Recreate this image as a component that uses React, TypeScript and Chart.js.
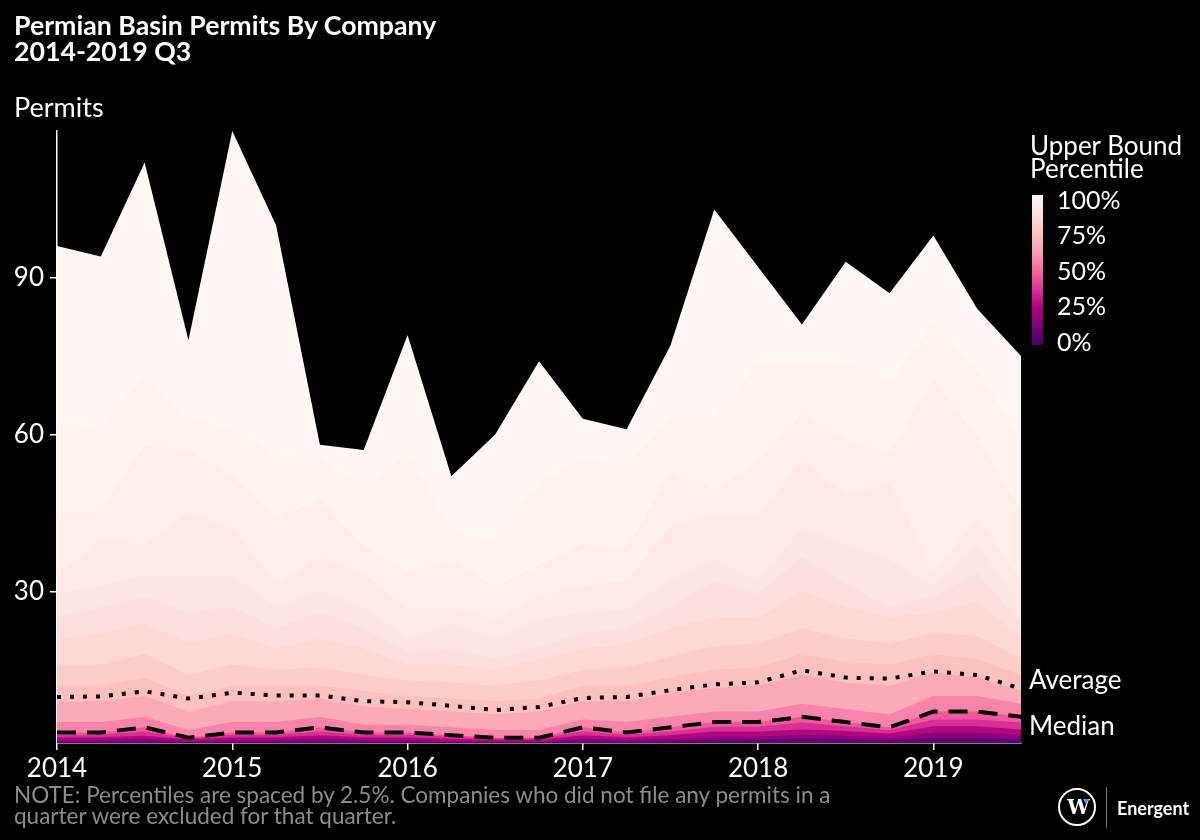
import React, { useEffect, useRef } from 'react';
import { Chart, registerables } from 'chart.js';

Chart.register(...registerables);

// ---------- DATA ----------
const QUARTERS = [
  '2014 Q1', '2014 Q2', '2014 Q3', '2014 Q4',
  '2015 Q1', '2015 Q2', '2015 Q3', '2015 Q4',
  '2016 Q1', '2016 Q2', '2016 Q3', '2016 Q4',
  '2017 Q1', '2017 Q2', '2017 Q3', '2017 Q4',
  '2018 Q1', '2018 Q2', '2018 Q3', '2018 Q4',
  '2019 Q1', '2019 Q2', '2019 Q3',
];

// Upper-bound percentile values (permits per company) for each quarter
const P100 = [96, 94, 112, 78, 118, 100, 58, 57, 79, 52, 60, 74, 63, 61, 77, 103, 92, 81, 93, 87, 98, 84, 75];
const P97_5 = [62, 61.5, 71, 63, 61, 56, 55.5, 49.5, 56.5, 41.5, 39.5, 51, 55, 54, 63, 63, 73.5, 73.5, 73.5, 70, 81, 72, 59];
const P95 = [45, 45, 58, 57, 52, 44, 47.5, 38.5, 34, 36, 31, 35, 39, 38, 53, 49.5, 55, 64, 59, 56.5, 70.5, 59.5, 45];
const P92_5 = [33, 40, 39, 45, 42, 31.5, 36.5, 33.5, 26.5, 27, 24.5, 29, 31, 32, 42.5, 44.5, 44.5, 55, 48.5, 50.5, 33.5, 44, 32];
const P90 = [29.5, 31, 33, 33, 33, 27, 30, 27, 21, 24, 21, 24.5, 26, 26.5, 32, 36, 32, 42, 39, 36, 31, 39, 27];
const P87_5 = [25, 27, 29, 26, 27, 23, 26, 23, 18.5, 19, 17, 19.5, 22, 23, 27, 32, 29.5, 36.5, 31.5, 27, 29, 33.5, 24];
const P85 = [21, 22, 24, 20, 22, 19, 21, 19, 16, 16, 15, 17, 19, 20, 23, 25, 25, 30, 27, 25, 26, 28, 21];
const P80 = [16, 16, 18, 14, 16, 15, 15.5, 14, 13, 12.5, 12, 13, 15, 15.5, 17.5, 19.5, 20, 23, 21, 20, 22, 21.5, 17];
const P75 = [12, 12, 13.5, 10, 12, 12, 12, 11, 10, 9.5, 9, 9.5, 12, 12, 13.5, 15, 15.5, 18, 16.5, 16, 18, 17, 14];
const P70 = [9, 9, 10, 7, 9, 9, 9.5, 8, 7.5, 7, 6.5, 7, 9, 9, 10.5, 11.5, 12, 14, 12.5, 12, 14.5, 13.5, 11];
const P60 = [5, 5, 6, 3.5, 5, 5, 6, 4.5, 4.5, 4, 3.5, 3.5, 5.5, 5, 6, 7, 7, 8.5, 7.5, 6.5, 10, 10, 8.5];
const P50 = [3, 3, 4, 2, 3, 3, 4, 3, 3, 2.5, 2, 2, 4, 3, 4, 5, 5, 6, 5, 4, 7, 7, 6];
const P40 = [2.6, 2.6, 3.2, 1.9, 2.6, 2.6, 3.2, 2.6, 2.6, 2.2, 1.9, 1.9, 3.2, 2.6, 3.2, 4.1, 4.1, 4.9, 4.2, 3.5, 5.5, 5.5, 4.9];
const P30 = [2.1, 2.1, 2.4, 1.7, 2.1, 2.1, 2.5, 2.1, 2.1, 1.8, 1.6, 1.6, 2.5, 2.1, 2.5, 3.2, 3.2, 3.6, 3.3, 2.8, 4.2, 4.2, 3.6];
const P20 = [1.6, 1.6, 1.8, 1.4, 1.6, 1.6, 1.8, 1.6, 1.6, 1.4, 1.3, 1.3, 1.8, 1.6, 1.8, 2.2, 2.2, 2.6, 2.4, 2, 3, 3, 2.6];
const P10 = [1.2, 1.2, 1.3, 1.1, 1.2, 1.2, 1.3, 1.2, 1.2, 1.1, 1.1, 1.1, 1.3, 1.2, 1.3, 1.6, 1.6, 1.9, 1.7, 1.5, 2, 2, 1.7];

const AVERAGE = [9.8, 9.9, 10.9, 9.5, 10.6, 10.1, 10.1, 9.0, 8.8, 8.1, 7.3, 7.9, 9.6, 9.8, 11.1, 12.2, 12.6, 14.9, 13.5, 13.3, 14.7, 14.0, 11.4];
const MEDIAN = P50;

const Y_TICKS = [30, 60, 90];
const X_TICKS = [2014, 2015, 2016, 2017, 2018, 2019];
const LEGEND_LABELS = ['100%', '75%', '50%', '25%', '0%'];

const TITLE = ['Permian Basin Permits By Company', '2014-2019 Q3'];
const Y_TITLE = 'Permits';
const LEGEND_TITLE = ['Upper Bound', 'Percentile'];
const NOTE = [
  'NOTE: Percentiles are spaced by 2.5%. Companies who did not file any permits in a',
  'quarter were excluded for that quarter.',
];

// bands: [upper percentile, lower percentile, values]
const BANDS: [number, number, number[]][] = [
  [10, 0, P10], [20, 10, P20], [30, 20, P30], [40, 30, P40], [50, 40, P50],
  [60, 50, P60], [70, 60, P70], [75, 70, P75], [80, 75, P80], [85, 80, P85],
  [87.5, 85, P87_5], [90, 87.5, P90], [92.5, 90, P92_5], [95, 92.5, P95],
  [97.5, 95, P97_5], [100, 97.5, P100],
];

// ---------- STYLE ----------
const RDPU = ['#49006a', '#7a0177', '#ae017e', '#dd3497', '#f768a1', '#fa9fb5', '#fcc5c0', '#fde0dd', '#fff7f3'];

function hex(c: string) {
  return [parseInt(c.slice(1, 3), 16), parseInt(c.slice(3, 5), 16), parseInt(c.slice(5, 7), 16)];
}
function rdpu(t: number) {
  const x = Math.max(0, Math.min(1, t)) * (RDPU.length - 1);
  const i = Math.min(RDPU.length - 2, Math.floor(x));
  const f = x - i;
  const a = hex(RDPU[i]);
  const b = hex(RDPU[i + 1]);
  const m = a.map((v, k) => Math.round(v + (b[k] - v) * f));
  return `rgb(${m[0]},${m[1]},${m[2]})`;
}

function quarterToX(q: string) {
  const [y, qq] = q.split(' Q');
  return Number(y) + (Number(qq) - 1) / 4;
}

const FONT = 'Lato, "Open Sans", sans-serif';

export default function App() {
  const ref = useRef<HTMLCanvasElement | null>(null);

  useEffect(() => {
    document.body.style.margin = '0';
    document.body.style.background = '#000';
    const xs = QUARTERS.map(quarterToX);
    const pts = (arr: number[]) => arr.map((v, i) => ({ x: xs[i], y: v }));

    const lineLabels = {
      id: 'lineLabels',
      afterDatasetsDraw(chart: any) {
        const ctx = chart.ctx;
        const area = chart.chartArea;
        const avgMeta = chart.getDatasetMeta(0);
        const medMeta = chart.getDatasetMeta(1);
        const ya = avgMeta.data[avgMeta.data.length - 1].y;
        const ym = medMeta.data[medMeta.data.length - 1].y;
        ctx.save();
        ctx.fillStyle = '#ffffff';
        ctx.font = `26px ${FONT}`;
        ctx.textAlign = 'left';
        ctx.textBaseline = 'alphabetic';
        ctx.fillText('Average', area.right + 8, ya);
        ctx.fillText('Median', area.right + 8, ym + 18);
        ctx.restore();
      },
    };

    const datasets: any[] = [
      {
        label: 'Average',
        data: pts(AVERAGE),
        borderColor: '#000',
        borderWidth: 4,
        borderDash: [4, 9],
        borderCapStyle: 'butt',
        pointRadius: 0,
        fill: false,
        tension: 0,
      },
      {
        label: 'Median',
        data: pts(MEDIAN),
        borderColor: '#000',
        borderWidth: 4,
        borderDash: [19, 11],
        borderCapStyle: 'butt',
        pointRadius: 0,
        fill: false,
        tension: 0,
      },
      ...BANDS.map(([up, lo, vals]) => ({
        label: `${up}%`,
        data: pts(vals),
        borderWidth: 0,
        borderColor: 'rgba(0,0,0,0)',
        backgroundColor: rdpu((lo + 2.5 + up) / 2 / 100),
        pointRadius: 0,
        fill: 'origin',
        tension: 0,
      })),
    ];

    const chart = new Chart(ref.current as HTMLCanvasElement, {
      type: 'line',
      data: { datasets },
      options: {
        responsive: false,
        animation: false,
        events: [],
        layout: { padding: { left: 0, top: 131, right: 179, bottom: 57 } },
        plugins: { legend: { display: false }, tooltip: { enabled: false } },
        scales: {
          x: {
            type: 'linear',
            min: 2014,
            max: 2019.5,
            afterBuildTicks: (s: any) => { s.ticks = X_TICKS.map((v) => ({ value: v })); },
            afterFit: (s: any) => { s.height = 40; },
            ticks: {
              color: '#fff',
              font: { family: FONT, size: 26 },
              padding: 3,
              maxRotation: 0,
              callback: (v: any) => String(v),
            },
            grid: { display: true, drawOnChartArea: false, drawTicks: true, tickLength: 7, color: '#fff', lineWidth: 1.5 },
            border: { display: true, color: '#fff', width: 1.5 },
          },
          y: {
            type: 'linear',
            min: 1,
            max: 118,
            afterBuildTicks: (s: any) => { s.ticks = Y_TICKS.map((v) => ({ value: v })); },
            afterFit: (s: any) => { s.width = 57; },
            ticks: {
              color: '#fff',
              font: { family: FONT, size: 26 },
              padding: 6,
              callback: (v: any) => String(v),
            },
            grid: { display: true, drawOnChartArea: false, drawTicks: true, tickLength: 7, color: '#fff', lineWidth: 1.5 },
            border: { display: true, color: '#fff', width: 1.5 },
          },
        },
      },
      plugins: [lineLabels],
    });
    return () => chart.destroy();
  }, []);

  const grad = `linear-gradient(to bottom, ${[...RDPU].reverse().join(', ')})`;

  const text = (extra: React.CSSProperties): React.CSSProperties => ({
    position: 'absolute',
    fontFamily: FONT,
    color: '#fff',
    whiteSpace: 'nowrap',
    ...extra,
  });

  return (
    <div style={{ position: 'fixed', left: 0, top: 0, width: 1200, height: 840, background: '#000', overflow: 'hidden' }}>
      <canvas ref={ref} width={1200} height={840} style={{ position: 'absolute', left: 0, top: 0, width: 1200, height: 840 }} />
      <div style={text({ left: 14, top: 11.5, fontSize: 26.7, fontWeight: 700, lineHeight: '26px' })}>
        {TITLE.map((t) => <div key={t}>{t}</div>)}
      </div>
      <div style={text({ left: 14, top: 91.5, fontSize: 27, lineHeight: '30px' })}>{Y_TITLE}</div>
      <div style={text({ left: 1030, top: 133.5, fontSize: 26, lineHeight: '23px' })}>
        {LEGEND_TITLE.map((t) => <div key={t}>{t}</div>)}
      </div>
      <div style={{ position: 'absolute', left: 1032, top: 195, width: 11, height: 150, background: grad }} />
      {LEGEND_LABELS.map((l, i) => (
        <div key={l} style={text({ left: 1057, top: 200 + i * 35.4 - 16, fontSize: 25, lineHeight: '30px' })}>{l}</div>
      ))}
      <div style={text({ left: 14, top: 784, fontSize: 22.5, lineHeight: '21px', color: '#8c8c8c' })}>
        {NOTE.map((t) => <div key={t}>{t}</div>)}
      </div>
      <div style={{ position: 'absolute', left: 1058, top: 788, width: 34, height: 34, border: '2.5px solid #fff', borderRadius: '50%' }} />
      <div style={text({ left: 1060, top: 792, width: 34, textAlign: 'center', fontSize: 20, fontWeight: 900, lineHeight: '30px', fontFamily: '"DejaVu Serif", serif', letterSpacing: '-3px' })}>W</div>
      <div style={{ position: 'absolute', left: 1083, top: 799, width: 0, height: 0, borderLeft: '3px solid transparent', borderRight: '3px solid transparent', borderTop: '5px solid #29a3e0' }} />
      <div style={{ position: 'absolute', left: 1106, top: 787, width: 1, height: 41, background: '#777' }} />
      <div style={text({ left: 1117, top: 796, fontSize: 18, fontWeight: 700, lineHeight: '24px' })}>Energent</div>
    </div>
  );
}
